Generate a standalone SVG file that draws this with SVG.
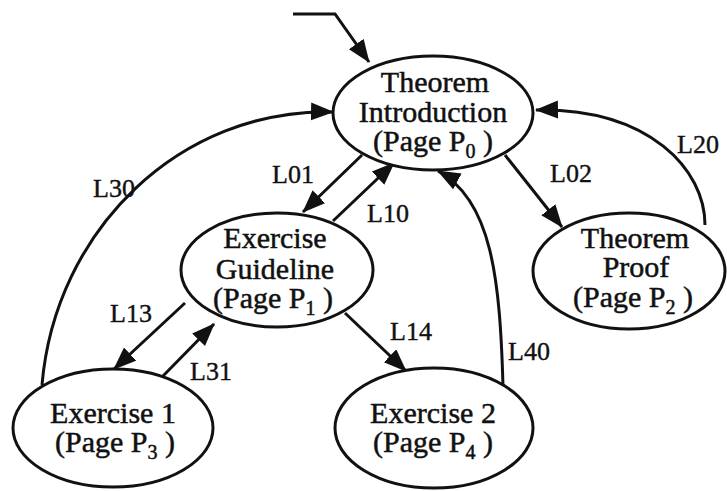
<svg xmlns="http://www.w3.org/2000/svg" width="727" height="491" viewBox="0 0 727 491">
  <style>
    .node ellipse { fill: #ffffff; stroke: #111111; stroke-width: 3; }
    .node text { font-family: "Liberation Serif", "Times New Roman", serif; font-size: 30px; fill: #111111; stroke: #111111; stroke-width: 0.5; text-anchor: middle; }
    .sub { font-size: 20px; }
    .edge { fill: none; stroke: #111111; stroke-width: 3; }
    .lbl { font-family: "Liberation Serif", "Times New Roman", serif; font-size: 26px; fill: #111111; stroke: #111111; stroke-width: 0.4; }
  </style>
  <defs>
    <marker id="arrow" markerUnits="userSpaceOnUse" markerWidth="24" markerHeight="20" refX="22" refY="9" orient="auto">
      <path d="M0,0 L23,9 L0,18 z" fill="#111111"/>
    </marker>
  </defs>
  <rect width="727" height="491" fill="#ffffff"/>

  <g id="connectors">
    <!-- entry into the introduction page -->
    <polyline class="edge" points="293,14 335,14 369,62" marker-end="url(#arrow)"/>
    <!-- L01 / L10 -->
    <line class="edge" x1="362" y1="155" x2="303" y2="212" marker-end="url(#arrow)"/>
    <line class="edge" x1="333" y1="221" x2="394" y2="163" marker-end="url(#arrow)"/>
    <!-- L02 / L20 -->
    <line class="edge" x1="505" y1="155" x2="562" y2="227" marker-end="url(#arrow)"/>
    <path class="edge" d="M705,225 C705,170 650,108 536,110" marker-end="url(#arrow)"/>
    <!-- L30 -->
    <path class="edge" d="M42,385 C55,230 180,108 333,112" marker-end="url(#arrow)"/>
    <!-- L13 / L31 -->
    <line class="edge" x1="185" y1="303" x2="114" y2="369" marker-end="url(#arrow)"/>
    <line class="edge" x1="162" y1="377" x2="214" y2="324" marker-end="url(#arrow)"/>
    <!-- L14 -->
    <line class="edge" x1="345" y1="313" x2="406" y2="371" marker-end="url(#arrow)"/>
    <!-- L40 -->
    <path class="edge" d="M503,386 C500,280 492,200 438,171" marker-end="url(#arrow)"/>

    <text class="lbl" x="93" y="197">L30</text>
    <text class="lbl" x="272" y="183">L01</text>
    <text class="lbl" x="367" y="222">L10</text>
    <text class="lbl" x="550" y="182">L02</text>
    <text class="lbl" x="677" y="153">L20</text>
    <text class="lbl" x="110" y="322">L13</text>
    <text class="lbl" x="190" y="380">L31</text>
    <text class="lbl" x="390" y="340">L14</text>
    <text class="lbl" x="508" y="360">L40</text>
  </g>

  <g id="p0" class="node">
    <ellipse cx="433" cy="113" rx="100" ry="57"/>
    <text x="435" y="92">Theorem</text>
    <text x="433" y="122">Introduction</text>
    <text x="433" y="151">(Page P<tspan class="sub" dy="7">0</tspan><tspan dy="-7"> )</tspan></text>
  </g>

  <g id="p1" class="node">
    <ellipse cx="277" cy="270" rx="96" ry="57"/>
    <text x="275" y="248">Exercise</text>
    <text x="275" y="279">Guideline</text>
    <text x="273" y="308">(Page P<tspan class="sub" dy="7">1</tspan><tspan dy="-7"> )</tspan></text>
  </g>

  <g id="p2" class="node">
    <ellipse cx="629" cy="271" rx="96" ry="58"/>
    <text x="635" y="248">Theorem</text>
    <text x="636" y="277">Proof</text>
    <text x="633" y="307">(Page P<tspan class="sub" dy="7">2</tspan><tspan dy="-7"> )</tspan></text>
  </g>

  <g id="p3" class="node">
    <ellipse cx="113" cy="428" rx="100" ry="59"/>
    <text x="113" y="423">Exercise 1</text>
    <text x="115" y="452">(Page P<tspan class="sub" dy="7">3</tspan><tspan dy="-7"> )</tspan></text>
  </g>

  <g id="p4" class="node">
    <ellipse cx="434" cy="428" rx="99" ry="60"/>
    <text x="433" y="423">Exercise 2</text>
    <text x="433" y="452">(Page P<tspan class="sub" dy="7">4</tspan><tspan dy="-7"> )</tspan></text>
  </g>
</svg>
